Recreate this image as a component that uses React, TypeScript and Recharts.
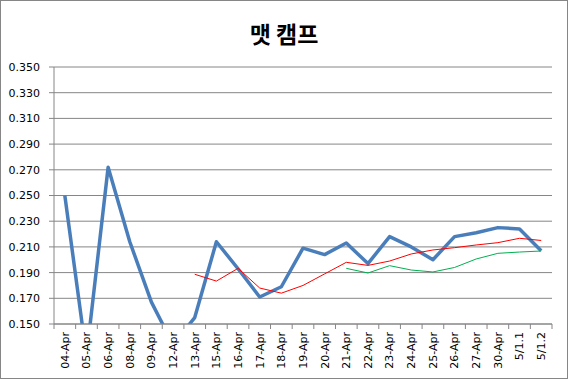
import { CartesianGrid, Line, LineChart, XAxis, YAxis } from "recharts";

const dates = [
  "04-Apr", "05-Apr", "06-Apr", "08-Apr", "09-Apr", "12-Apr", "13-Apr", "15-Apr",
  "16-Apr", "17-Apr", "18-Apr", "19-Apr", "20-Apr", "21-Apr", "22-Apr", "23-Apr",
  "24-Apr", "25-Apr", "26-Apr", "27-Apr", "30-Apr", "5/1.1", "5/1.2",
];

const daily = [
  0.25, 0.125, 0.272, 0.214, 0.167, 0.134, 0.155, 0.214,
  0.193, 0.171, 0.179, 0.209, 0.204, 0.213, 0.197, 0.218,
  0.21, 0.2, 0.218, 0.221, 0.225, 0.224, 0.207,
];

const avgShort: (number | null)[] = [
  null, null, null, null, null, null, 0.1887, 0.1834,
  0.1933, 0.178, 0.174, 0.18, 0.189, 0.198, 0.1956, 0.199,
  0.2045, 0.2076, 0.2094, 0.2115, 0.2133, 0.2167, 0.215,
];

const avgLong: (number | null)[] = [
  null, null, null, null, null, null, null, null,
  null, null, null, null, null, 0.1933, 0.1897, 0.1954,
  0.192, 0.1905, 0.194, 0.2006, 0.205, 0.206, 0.2068,
];

const yTicks = [0.15, 0.17, 0.19, 0.21, 0.23, 0.25, 0.27, 0.29, 0.31, 0.33, 0.35];

const data = dates.map((d, i) => ({
  date: d,
  daily: daily[i],
  short: avgShort[i],
  long: avgLong[i],
}));

const W = 568;
const H = 379;
const margin = { top: 67, right: 16, left: 0, bottom: 0 };
const yAxisWidth = 54;
const band = (W - margin.left - margin.right - yAxisWidth) / dates.length;

function DateTick(props: any) {
  const { x, y, payload, index } = props;
  const axisY = y - 8;
  const last = index === dates.length - 1;
  return (
    <g>
      <line x1={x - band / 2} x2={x - band / 2} y1={axisY} y2={axisY + 5} stroke="#868686" />
      {last && <line x1={x + band / 2} x2={x + band / 2} y1={axisY} y2={axisY + 5} stroke="#868686" />}
      <text
        transform={`translate(${x},${y}) rotate(-90)`}
        textAnchor="end"
        dy="0.35em"
        fontSize={11}
        fontFamily="DejaVu Sans"
        fill="#000"
      >
        {payload.value}
      </text>
    </g>
  );
}

export default function App() {
  return (
    <div style={{ position: "absolute", left: 0, top: 0, width: W, height: H, background: "#fff" }}>
      <div
        style={{
          position: "absolute",
          left: 0,
          top: 0,
          width: W,
          height: H,
          boxSizing: "border-box",
          border: "1px solid #868686",
          pointerEvents: "none",
        }}
      />
      <div
        style={{
          position: "absolute",
          left: 0,
          top: 18,
          width: W,
          textAlign: "center",
          fontFamily: "Noto Sans CJK KR",
          fontWeight: "bold",
          fontSize: 23,
          lineHeight: "30px",
        }}
      >
        맷 캠프
      </div>
      <LineChart width={W} height={H} data={data} margin={margin}>
        <CartesianGrid vertical={false} stroke="#868686" strokeWidth={1} />
        <XAxis
          dataKey="date"
          scale="band"
          interval={0}
          height={55}
          tickLine={false}
          tickSize={5}
          tickMargin={3}
          axisLine={{ stroke: "#868686" }}
          tick={<DateTick />}
        />
        <YAxis
          width={yAxisWidth}
          domain={[0.15, 0.35]}
          ticks={yTicks}
          allowDataOverflow
          tickFormatter={(v: number) => v.toFixed(3)}
          tickSize={5}
          tickMargin={9}
          axisLine={{ stroke: "#868686" }}
          tickLine={{ stroke: "#868686" }}
          tick={{ fontSize: 11, fontFamily: "DejaVu Sans", fill: "#000" }}
        />
        <Line
          dataKey="daily"
          stroke="#4a7ebb"
          strokeWidth={3.5}
          dot={false}
          isAnimationActive={false}
          strokeLinejoin="round"
        />
        <Line dataKey="short" stroke="#ff0000" strokeWidth={1} dot={false} isAnimationActive={false} />
        <Line dataKey="long" stroke="#00b050" strokeWidth={1} dot={false} isAnimationActive={false} />
      </LineChart>
    </div>
  );
}
